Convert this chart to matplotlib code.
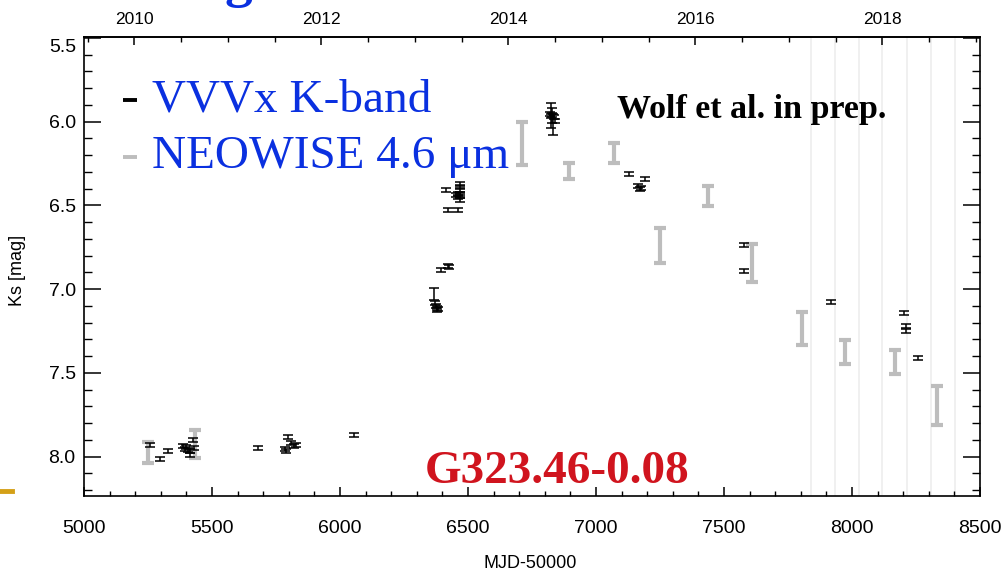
"""
Ks-band and NEOWISE light curve of G323.46-0.08
"""

import numpy as np
import matplotlib.pyplot as plt
from matplotlib.ticker import MultipleLocator, FixedLocator
from matplotlib.lines import Line2D

# VVVx K-band photometry (MJD-50000, Ks mag, error)
vvv_mjd = [5257, 5297, 5327, 5387, 5394, 5400, 5405, 5414, 5416, 5426, 5430,
           5680, 5784, 5791, 5797, 5810, 5819, 5830, 6055,
           6368, 6372, 6375, 6378, 6380, 6383,
           6396, 6420, 6425,
           6415, 6420, 6459, 6455, 6460, 6462,
           6467, 6467, 6467, 6467, 6467, 6467,
           6825, 6828, 6832, 6822, 6826, 6830, 6835, 6840,
           7130, 7192, 7163, 7176, 7172,
           7579, 7579, 7917, 8204, 8210, 8212, 8259]
vvv_mag = [7.933, 8.014, 7.968, 7.939, 7.954, 7.945, 7.960, 7.968, 7.988, 7.899, 7.948,
           7.948, 7.952, 7.968, 7.882, 7.918, 7.934, 7.928, 7.869,
           7.030, 7.080, 7.100, 7.110, 7.125, 7.120,
           6.884, 6.860, 6.868,
           6.410, 6.530, 6.530, 6.440, 6.450, 6.430,
           6.370, 6.390, 6.410, 6.430, 6.446, 6.470,
           5.963, 5.963, 6.015, 5.955, 5.965, 5.958, 5.970, 5.998,
           6.312, 6.342, 6.386, 6.396, 6.400,
           6.737, 6.893, 7.074, 7.140, 7.223, 7.250, 7.412]
vvv_err = [0.012] * len(vvv_mag)
vvv_err[19] = 0.035
vvv_err[40] = 0.075
vvv_err[41] = 0.045
vvv_err[42] = 0.063

# NEOWISE W2 (4.6 micron)
wise_mjd = [5251, 5433, 6712, 6893, 7072, 7250, 7436, 7611, 7803, 7973, 8168, 8331]
wise_mag = [7.976, 7.925, 6.130, 6.294, 6.187, 6.739, 6.442, 6.845, 7.234, 7.375, 7.434, 7.697]
wise_err = [0.061, 0.082, 0.127, 0.048, 0.060, 0.104, 0.060, 0.115, 0.098, 0.073, 0.073, 0.116]

# faint vertical lines at the right end
vlines_mjd = [7841, 7934, 8028, 8119, 8215, 8309, 8403]

year_ticks = [2010, 2012, 2014, 2016, 2018]
y_ticks = [5.5, 6.0, 6.5, 7.0, 7.5, 8.0]

W, H = 1004, 574


def px(x, y):
    """pixel position -> figure fraction"""
    return x / W, 1 - y / H


def to_year(x):
    return 2000.0 + (np.asarray(x) + 50000 - 51544.5) / 365.25


def to_mjd(yr):
    return (np.asarray(yr) - 2000.0) * 365.25 + 51544.5 - 50000


plt.rcParams['font.family'] = 'Liberation Sans'

fig = plt.figure(figsize=(W / 100, H / 100), dpi=100)
ax = fig.add_axes([84 / W, 1 - 496 / H, (980 - 84) / W, (496 - 37) / H])

for xv in vlines_mjd:
    ax.axvline(xv, color='#ececec', lw=1.1, zorder=0)

ax.errorbar(wise_mjd, wise_mag, yerr=wise_err, fmt='none', ecolor='#bdbdbd',
            elinewidth=3.0, capsize=4.5, capthick=3.0, zorder=2)
ax.errorbar(vvv_mjd, vvv_mag, yerr=vvv_err, fmt='none', ecolor='black',
            elinewidth=1.1, capsize=3.6, capthick=1.1, zorder=3)

ax.set_xlim(5000, 8500)
ax.set_ylim(8.235, 5.495)

ax.xaxis.set_major_locator(MultipleLocator(500))
ax.xaxis.set_minor_locator(MultipleLocator(100))
ax.set_yticks(y_ticks)
ax.set_yticklabels([''] + [f'{v:.1f}' for v in y_ticks[1:]])
ax.yaxis.set_minor_locator(MultipleLocator(0.1))

ax.tick_params(axis='y', which='major', direction='in', length=12, width=1.1,
               labelsize=14, pad=6, right=True)
ax.tick_params(axis='y', which='minor', direction='in', length=5.5, width=1.0, right=True)
ax.tick_params(axis='x', which='major', direction='in', length=6.5, width=1.1,
               labelsize=14, pad=17, top=False)
ax.tick_params(axis='x', which='minor', direction='in', length=3.6, width=1.0, top=False)
for s in ax.spines.values():
    s.set_linewidth(1.2)

# the 5.5 label sits a bit below its tick in the original
fig.text(*px(76, 48), '5.5', fontsize=14, ha='right', va='center')

sec = ax.secondary_xaxis('top', functions=(to_year, to_mjd))
sec.xaxis.set_major_locator(FixedLocator(year_ticks))
sec.xaxis.set_minor_locator(MultipleLocator(0.5))
sec.set_xticklabels([str(y) for y in year_ticks])
sec.tick_params(which='major', direction='in', length=6, width=1.1, labelsize=12.5, pad=7)
sec.tick_params(which='minor', direction='in', length=3.3, width=1.0)
sec.spines['top'].set_linewidth(1.2)

fig.text(*px(18, 270), 'Ks [mag]', fontsize=13, rotation=90, ha='center', va='center')
fig.text(*px(530, 563), 'MJD-50000', fontsize=13, ha='center', va='center')

# legend-like annotations
serif = 'Liberation Serif'
blue = '#0a30e0'
for y, c in [(100, 'black'), (157, '#bdbdbd')]:
    fig.add_artist(Line2D([123 / W, 137 / W], [1 - y / H, 1 - y / H], color=c, lw=2.8,
                          solid_capstyle='butt'))
fig.text(*px(152, 111), 'VVVx K-band', fontsize=34, family=serif, color=blue, va='baseline')
fig.text(*px(152, 168), 'NEOWISE 4.6 \u03bcm', fontsize=34, family=serif, color=blue,
         va='baseline')

fig.text(*px(617, 118), 'Wolf et al. in prep.', fontsize=24.5, family=serif,
         weight='bold', va='baseline')
fig.text(*px(425, 483), 'G323.46-0.08', fontsize=34, family=serif, weight='bold',
         color='#d0141e', va='baseline')

# bits of the slide around the figure
fig.text(*px(238, -4), 'g', fontsize=40, family=serif, weight='bold', color=blue,
         ha='center', va='baseline')
fig.add_artist(Line2D([0, 12 / W], [1 - 491 / H, 1 - 491 / H], color='#d4a017', lw=3.5))

fig.savefig('out.png', dpi=100)
